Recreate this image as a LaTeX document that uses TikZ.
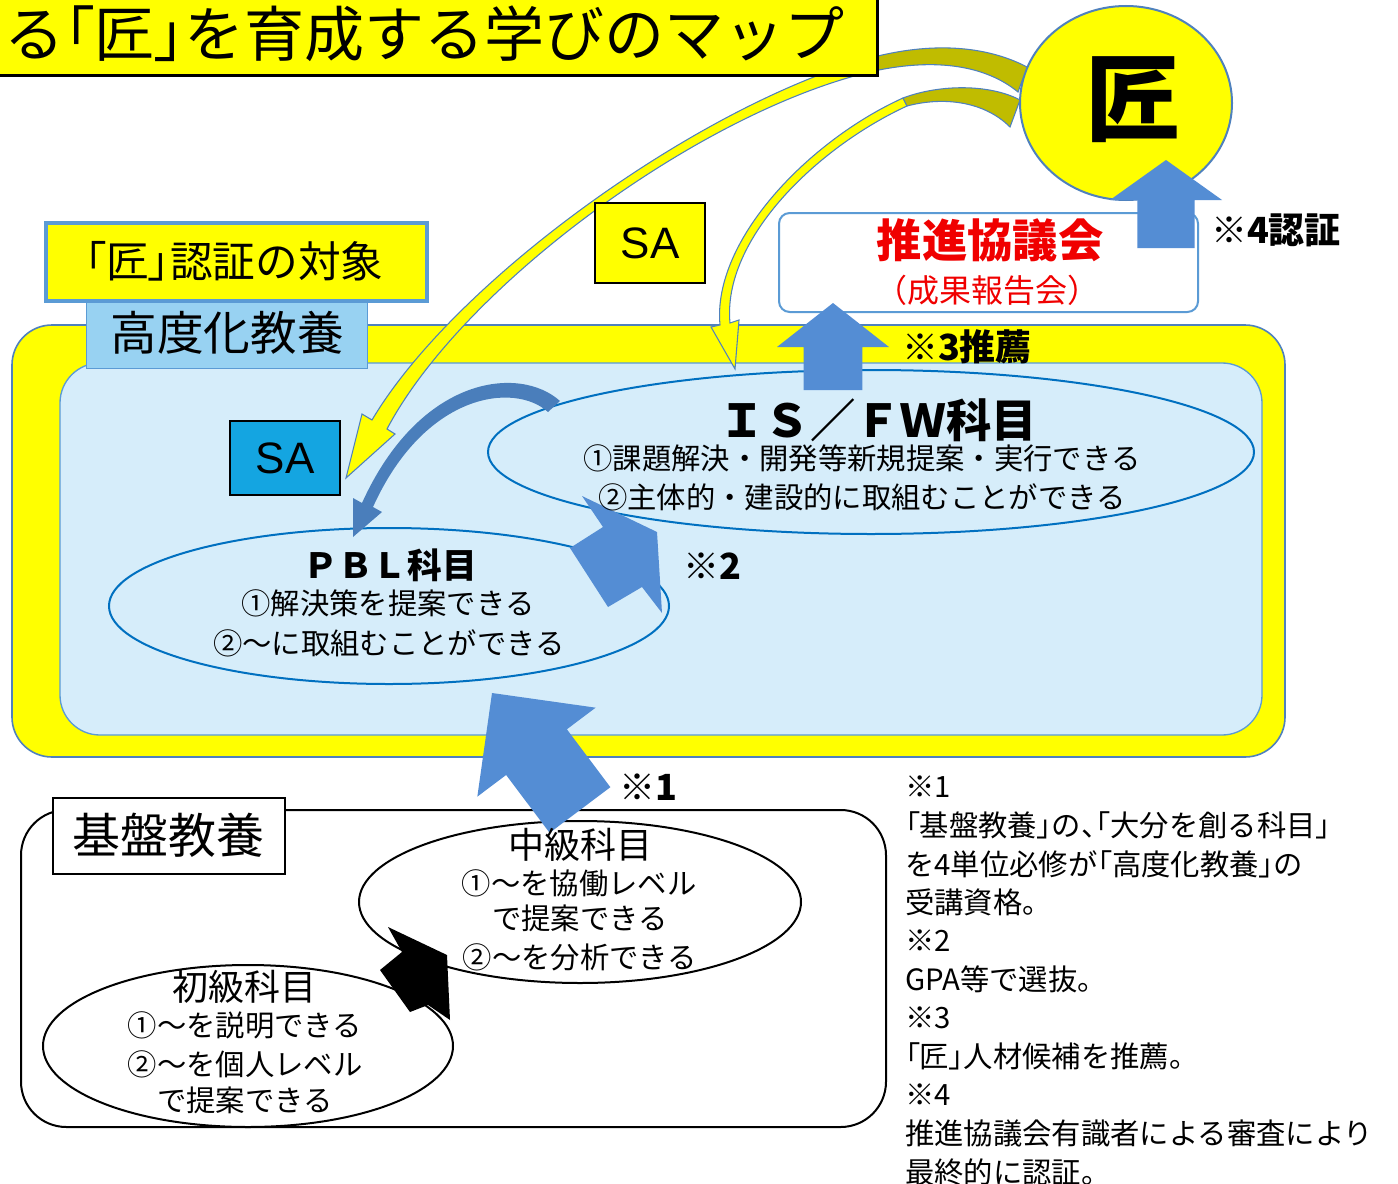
\documentclass[tikz,border=0pt]{standalone}
\usepackage{fontspec}
\setmainfont{Noto Sans CJK JP}
\newfontfamily\jpp{Noto Sans CJK JP}[RawFeature=+palt]
\newfontfamily\latinfont{Liberation Sans}
\usetikzlibrary{calc,shapes.geometric}
\definecolor{yel}{RGB}{255,255,0}
\definecolor{olivey}{RGB}{192,188,0}
\definecolor{bdr}{RGB}{79,129,189}
\definecolor{lbdr}{RGB}{91,155,213}
\definecolor{ellc}{RGB}{0,112,192}
\definecolor{innerc}{RGB}{214,237,250}
\definecolor{tabc}{RGB}{152,210,242}
\definecolor{sablue}{RGB}{20,165,225}
\definecolor{arrblue}{RGB}{84,141,212}
\definecolor{cblue}{RGB}{74,126,187}
\definecolor{jred}{RGB}{240,0,0}
\newcommand\fsz[1]{\fontsize{#1}{#1}\selectfont}
\newcommand\pb[1]{{\jpp #1}}
\newcommand\blkarrow[5]{%
  \coordinate (bkB) at ($(#2)!#5!(#1)$);
  \fill[arrblue] ($(#1)!#3!90:(#2)$) -- ($(bkB)!#3!90:(#2)$) -- ($(bkB)!#4!90:(#2)$) -- (#2)
     -- ($(bkB)!#4!-90:(#2)$) -- ($(bkB)!#3!-90:(#2)$) -- ($(#1)!#3!-90:(#2)$) -- cycle;}
\begin{document}
\begin{tikzpicture}[x=0.75pt,y=-0.75pt,
  txt/.style={inner sep=0,align=center},
  ellnode/.style={ellipse,draw=ellc,line width=1.5pt,inner sep=0},
  bellnode/.style={ellipse,draw=black,line width=1.5pt,inner sep=0},
  notemark/.style={inner sep=0,font=\fsz{27}\bfseries}]
\useasboundingbox (0,0) rectangle (1398,1184);
\fill[white] (0,0) rectangle (1398,1184);

% advanced area
\draw[bdr,fill=yel,line width=1.2pt,rounded corners=30pt] (12,325) rectangle (1285,757);
\draw[lbdr,fill=innerc,line width=1pt,rounded corners=30pt] (60,363) rectangle (1262,735);
\node[draw=lbdr,fill=tabc,line width=1pt,minimum width=210.75pt,minimum height=51pt,inner sep=0,anchor=north west] (tab) at (86,300) {};
\node[txt,font=\fsz{35}] at (227,333) {高度化教養};
\node[draw=lbdr,fill=yel,line width=3pt,minimum width=285.75pt,minimum height=58.5pt,inner sep=0,anchor=north west] (target) at (44,221) {};
\node[txt,font=\fsz{32}] at (234,261) {\pb{「}匠\pb{」}認証の対象};

% basic area
\draw[black,line width=1.5pt,rounded corners=34pt] (21,810) rectangle (886,1127);
\node[draw=black,fill=white,line width=1.5pt,minimum width=174pt,minimum height=57pt,inner sep=0,anchor=north west] (kiban) at (52,797) {};
\node[txt,font=\fsz{36}] at (168,835) {基盤教養};
\node[bellnode,minimum width=331.5pt,minimum height=121.5pt] (chu) at (580,902) {};
\node[bellnode,minimum width=307.5pt,minimum height=121.5pt] (sho) at (248,1046) {};

% council box
\draw[lbdr,fill=white,line width=1.5pt,rounded corners=8pt] (779,213) rectangle (1198,312);

% takumi circle
\node[ellipse,fill=yel,draw=bdr,line width=1.5pt,minimum width=159pt,minimum height=145.5pt,inner sep=0] (takumi) at (1126,103) {};
\node[txt,font=\fsz{71}\bfseries] at (1133,100) {匠};

% yellow curved arrows
\filldraw[fill=yel,draw=bdr,line width=0.8pt] (870,58) .. controls (700,105) and (455,280) .. (372,420) -- (362,414) -- (346,478) -- (395,434) -- (387,429) .. controls (463,285) and (703,110) .. (874,71) -- cycle;
\filldraw[fill=olivey,draw=bdr,line width=0.8pt] (1027,67) .. controls (985,45) and (930,42) .. (870,58) -- (874,71) .. controls (935,58) and (985,65) .. (1018,92) -- cycle;
\filldraw[fill=yel,draw=bdr,line width=0.8pt] (903,98) .. controls (810,140) and (712,240) .. (720,325) -- (711,327) -- (735,369) -- (739,320) -- (730,323) .. controls (722,240) and (816,148) .. (907,106) -- cycle;
\filldraw[fill=olivey,draw=bdr,line width=0.8pt] (1020,100) .. controls (990,84) and (940,84) .. (903,98) -- (907,106) .. controls (945,96) and (985,102) .. (1010,127) -- cycle;

% title
\draw[fill=yel,line width=2.25pt] (-20,-20) rectangle (877,76);
\node[txt,anchor=east,font=\fsz{45}] (title) at (845,34) {創る\pb{「}匠\pb{」}を育成する学びのマップ};

% SA boxes
\node[draw=black,fill=yel,line width=1.5pt,minimum width=82.5pt,minimum height=60pt,inner sep=0] (sa1) at (650,243) {};
\node[txt,font=\latinfont\fsz{33}] at (650,243) {SA};
\node[draw=black,fill=sablue,line width=1.5pt,minimum width=82.5pt,minimum height=56pt,inner sep=0] (sa2) at (285,458) {};
\node[txt,font=\latinfont\fsz{33}] at (285,458) {SA};

% ellipses
\node[ellnode,minimum width=574.5pt,minimum height=123pt] (isfw) at (871,452) {};
\node[ellnode,minimum width=420pt,minimum height=117pt] (pbl) at (389,606) {};

% blue curved arrow IS/FW -> PBL
\fill[cblue] (560,401) .. controls (520,365) and (420,375) .. (362,503) -- (353,498) -- (353,537) -- (382,512) -- (373,507) .. controls (425,392) and (515,382) .. (548,412) -- cycle;

% block arrows
\coordinate (a4t) at (1166,248); \coordinate (a4h) at (1166,160);
\blkarrow{a4t}{a4h}{21.4pt}{42pt}{30pt}
\coordinate (a3t) at (833,390); \coordinate (a3h) at (833,303);
\blkarrow{a3t}{a3h}{22pt}{42pt}{33pt}
\coordinate (a1t) at (580,810); \coordinate (a1h) at (492,693);
\blkarrow{a1t}{a1h}{28.5pt}{55.5pt}{55.5pt}
\fill[arrblue] (582,496) -- (603,527) -- (570,548) -- (608,607) -- (642,587) -- (662,613) -- (657,532) -- cycle;
\fill[black] (388,927) -- (402,952) -- (380,970) -- (410,1012) -- (428,1005) -- (450,1020) -- (447,955) -- cycle;

% marks
\node[notemark] at (1276,230) {※4認証};
\node[notemark] at (967,347) {※3推薦};
\node[notemark] at (712,566) {※2};
\node[notemark] at (648,787) {※1};

% council text
\node[txt,font=\fsz{34}\bfseries,text=jred] at (990,240) {推進協議会};
\node[txt,font=\fsz{24},text=jred] at (987,290) {（成果報告会）};

% IS/FW text
\node[txt,font=\fsz{34}\bfseries] at (878,420) {ＩＳ／ＦＷ科目};
\node[txt,font=\fsz{22}] at (862,458) {①課題解決・開発等新規提案・実行できる};
\node[txt,font=\fsz{22}] at (862,497) {②主体的・建設的に取組むことができる};

% PBL text
\node[txt,font=\fsz{26}\bfseries] at (390,565) {ＰＢＬ科目};
\node[txt,font=\fsz{22}] at (388,603) {①解決策を提案できる};
\node[txt,font=\fsz{22}] at (389,643) {②～に取組むことができる};

% basic texts
\node[txt,font=\fsz{27}] at (580,845) {中級科目};
\node[txt,font=\fsz{22}] at (579,883) {①～を協働レベル};
\node[txt,font=\fsz{22}] at (580,918) {で提案できる};
\node[txt,font=\fsz{22}] at (580,957) {②～を分析できる};
\node[txt,font=\fsz{27}] at (244,987) {初級科目};
\node[txt,font=\fsz{22}] at (245,1025) {①～を説明できる};
\node[txt,font=\fsz{22}] at (245,1064) {②～を個人レベル};
\node[txt,font=\fsz{22}] at (245,1100) {で提案できる};

% notes
\foreach \t [count=\i from 0] in {※1,{\pb{「}基盤教養\pb{」}の\pb{、「}大分を創る科目\pb{」}},{を4単位必修が\pb{「}高度化教養\pb{」}の},受講資格。,※2,GPA等で選抜。,※3,{\pb{「}匠\pb{」}人材候補を推薦。},※4,推進協議会有識者による審査により,最終的に認証。}
  \node[txt,anchor=west,font=\fsz{22}] at (905,{787+38.5*\i}) {\t};
\end{tikzpicture}
\end{document}
